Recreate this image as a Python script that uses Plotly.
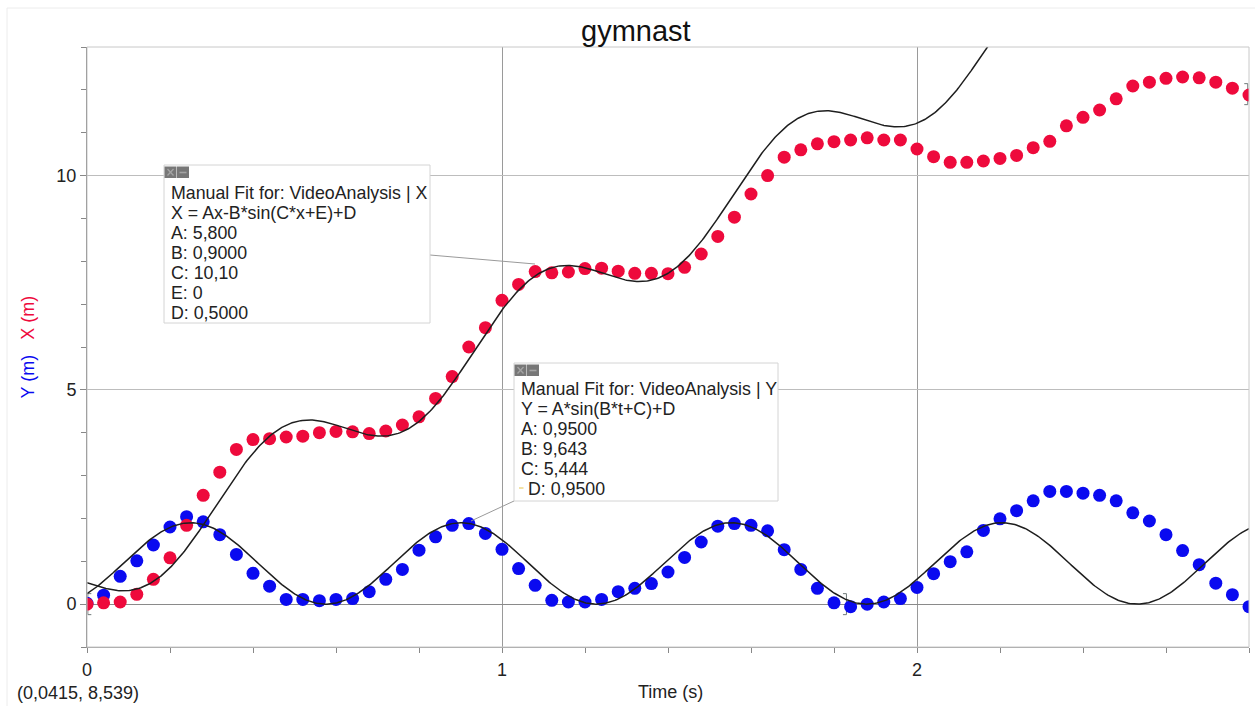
import numpy as np
import plotly.graph_objects as go

# ---- measured data (video analysis, 25 frames per second) ----
time_s = [0.00, 0.04, 0.08, 0.12, 0.16, 0.20, 0.24, 0.28, 0.32, 0.36,
          0.40, 0.44, 0.48, 0.52, 0.56, 0.60, 0.64, 0.68, 0.72, 0.76,
          0.80, 0.84, 0.88, 0.92, 0.96, 1.00, 1.04, 1.08, 1.12, 1.16,
          1.20, 1.24, 1.28, 1.32, 1.36, 1.40, 1.44, 1.48, 1.52, 1.56,
          1.60, 1.64, 1.68, 1.72, 1.76, 1.80, 1.84, 1.88, 1.92, 1.96,
          2.00, 2.04, 2.08, 2.12, 2.16, 2.20, 2.24, 2.28, 2.32, 2.36,
          2.40, 2.44, 2.48, 2.52, 2.56, 2.60, 2.64, 2.68, 2.72, 2.76,
          2.80]

x_pos_m = [0.00, 0.03, 0.05, 0.23, 0.58, 1.08, 1.84, 2.54, 3.08, 3.61,
           3.84, 3.86, 3.90, 3.92, 4.00, 4.03, 4.02, 3.98, 4.04, 4.18,
           4.37, 4.80, 5.31, 6.00, 6.45, 7.09, 7.46, 7.76, 7.73, 7.75,
           7.83, 7.84, 7.77, 7.72, 7.72, 7.71, 7.86, 8.17, 8.58, 9.03,
           9.57, 10.00, 10.43, 10.60, 10.74, 10.79, 10.83, 10.88, 10.83, 10.83,
           10.62, 10.44, 10.31, 10.31, 10.34, 10.40, 10.47, 10.65, 10.80, 11.16,
           11.36, 11.53, 11.79, 12.09, 12.18, 12.27, 12.30, 12.28, 12.18, 12.04,
           11.88]

y_pos_m = [0.02, 0.21, 0.65, 1.01, 1.38, 1.80, 2.04, 1.92, 1.62, 1.16,
           0.72, 0.42, 0.11, 0.11, 0.08, 0.11, 0.13, 0.29, 0.58, 0.81,
           1.26, 1.57, 1.84, 1.88, 1.65, 1.28, 0.83, 0.44, 0.09, 0.05,
           0.05, 0.11, 0.29, 0.37, 0.48, 0.75, 1.09, 1.45, 1.82, 1.88,
           1.84, 1.71, 1.27, 0.81, 0.37, 0.03, -0.06, 0.00, 0.05, 0.13,
           0.39, 0.71, 0.99, 1.22, 1.72, 1.99, 2.18, 2.41, 2.63, 2.63,
           2.59, 2.54, 2.41, 2.13, 1.94, 1.62, 1.25, 0.92, 0.49, 0.22,
           -0.06]

# ---- manual fit parameters ----
x_fit = {"A": 5.800, "B": 0.9000, "C": 10.10, "E": 0.0, "D": 0.5000}
y_fit = {"A": 0.9500, "B": 9.643, "C": 5.444, "D": 0.9500}

# fit-range brackets: (time, level in m, side) ; side +1 = '[', -1 = ']'
fit_brackets = [(0.002, 0.0, +1), (1.83, 0.0, -1), (2.797, 11.9, -1)]

x_box_lines = ["Manual Fit for: VideoAnalysis | X",
               "X = Ax-B*sin(C*x+E)+D",
               "A: 5,800", "B: 0,9000", "C: 10,10", "E: 0", "D: 0,5000"]
y_box_lines = ["Manual Fit for: VideoAnalysis | Y",
               "Y = A*sin(B*t+C)+D",
               "A: 0,9500", "B: 9,643", "C: 5,444", "D: 0,9500"]

x_ticks = [0, 1, 2]
y_ticks = [0, 5, 10]

RED = "#ee0a3c"
BLUE = "#0a0af0"
FONT = "Liberation Sans, Arial, sans-serif"

W, H = 1255, 706
ML, MR, MT, MB = 87, 6, 47, 59
PW, PH = W - ML - MR, H - MT - MB
X_RANGE = [0, 2.8]
Y_RANGE = [-1, 13]


def px(x):
    """Pixel column -> paper x."""
    return (x - ML) / PW


def py(y):
    """Pixel row -> paper y."""
    return (H - MB - y) / PH


def fx(t, p):
    return p["A"] * t - p["B"] * np.sin(p["C"] * t + p["E"]) + p["D"]


def fy(t, p):
    return p["A"] * np.sin(p["B"] * t + p["C"]) + p["D"]


# fit curves evaluated from the stated parameters
tt = np.linspace(X_RANGE[0], X_RANGE[1], 800)
x_curve = fx(tt, x_fit)
y_curve = fy(tt, y_fit)

fig = go.Figure()
fig.add_trace(go.Scatter(x=time_s, y=y_pos_m, mode="markers",
                         marker=dict(color=BLUE, size=13, line=dict(width=0)),
                         name="Y"))
fig.add_trace(go.Scatter(x=time_s, y=x_pos_m, mode="markers",
                         marker=dict(color=RED, size=13, line=dict(width=0)),
                         name="X"))
fig.add_trace(go.Scatter(x=tt, y=y_curve, mode="lines",
                         line=dict(color="#1e1e1e", width=1.5), name="Y fit"))
fig.add_trace(go.Scatter(x=tt, y=x_curve, mode="lines",
                         line=dict(color="#1e1e1e", width=1.5), name="X fit"))

shapes = []
# faint window frame
shapes.append(dict(type="rect", xref="paper", yref="paper",
                   x0=px(7), x1=px(1300), y0=py(760), y1=py(8),
                   line=dict(color="#ececec", width=1), layer="below"))
# plot frame (top / right)
shapes.append(dict(type="rect", xref="paper", yref="paper",
                   x0=0, x1=1, y0=0, y1=1,
                   line=dict(color="#c8c8c8", width=1), layer="above"))


def bracket(t, level, side):
    ppu_x = PW / (X_RANGE[1] - X_RANGE[0])
    ppu_y = PH / (Y_RANGE[1] - Y_RANGE[0])
    cx = ML + (t - X_RANGE[0]) * ppu_x
    cy = H - MB - (level - Y_RANGE[0]) * ppu_y
    xs = cx + side * 3.5
    path = (f"M {px(xs)} {py(cy - 10.5)} L {px(cx)} {py(cy - 10.5)} "
            f"L {px(cx)} {py(cy + 10.5)} L {px(xs)} {py(cy + 10.5)}")
    shapes.append(dict(type="path", xref="paper", yref="paper", path=path,
                       line=dict(color="#6f7a7a", width=1), layer="below"))


for t_b, lvl_b, side_b in fit_brackets:
    bracket(t_b, lvl_b, side_b)


def fit_box(x0, y0, x1, y1, leader):
    shapes.append(dict(type="line", xref="paper", yref="paper",
                       x0=px(leader[0][0]), y0=py(leader[0][1]),
                       x1=px(leader[1][0]), y1=py(leader[1][1]),
                       line=dict(color="#9a9a9a", width=1), layer="above"))
    shapes.append(dict(type="rect", xref="paper", yref="paper",
                       x0=px(x0), x1=px(x1), y0=py(y1), y1=py(y0),
                       fillcolor="white", line=dict(color="#d4d4d4", width=1),
                       layer="above"))
    # close / minimise buttons
    for k in range(2):
        bx = x0 + 0.5 + k * 12.5
        shapes.append(dict(type="rect", xref="paper", yref="paper",
                           x0=px(bx), x1=px(bx + 12), y0=py(y0 + 13), y1=py(y0 + 1.5),
                           fillcolor="#777777", line=dict(width=0), layer="above"))
    bx = x0 + 0.5
    shapes.append(dict(type="line", xref="paper", yref="paper",
                       x0=px(bx + 3), x1=px(bx + 9), y0=py(y0 + 4), y1=py(y0 + 10.5),
                       line=dict(color="#a4a4a4", width=1.3), layer="above"))
    shapes.append(dict(type="line", xref="paper", yref="paper",
                       x0=px(bx + 3), x1=px(bx + 9), y0=py(y0 + 10.5), y1=py(y0 + 4),
                       line=dict(color="#a4a4a4", width=1.3), layer="above"))
    bx = x0 + 13
    shapes.append(dict(type="line", xref="paper", yref="paper",
                       x0=px(bx + 2.5), x1=px(bx + 9.5), y0=py(y0 + 7.5), y1=py(y0 + 7.5),
                       line=dict(color="#a4a4a4", width=1.6), layer="above"))


fit_box(164, 165, 430, 323, ((430, 255), (535, 264)))
fit_box(514, 363, 778, 501, ((514, 501), (471, 521)))
# small highlight marker before the last parameter of the Y fit
shapes.append(dict(type="rect", xref="paper", yref="paper",
                   x0=px(519), x1=px(523.5), y0=py(489), y1=py(487),
                   fillcolor="#f2e2a6", line=dict(width=0), layer="above"))

annotations = []
for k, line in enumerate(x_box_lines):
    annotations.append(dict(text=line, xref="paper", yref="paper",
                            x=px(169), y=py(192.5 + 20 * k),
                            xanchor="left", yanchor="middle", showarrow=False,
                            font=dict(family=FONT, size=17.8, color="#222222")))
for k, line in enumerate(y_box_lines):
    xl = 526 if k == len(y_box_lines) - 1 else 518.5
    annotations.append(dict(text=line, xref="paper", yref="paper",
                            x=px(xl), y=py(389 + 20 * k),
                            xanchor="left", yanchor="middle", showarrow=False,
                            font=dict(family=FONT, size=17.8, color="#222222")))

annotations.append(dict(text="gymnast", xref="paper", yref="paper",
                        x=px(636), y=py(31), xanchor="center", yanchor="middle",
                        showarrow=False,
                        font=dict(family=FONT, size=29, color="#111111")))
annotations.append(dict(text="Time (s)", xref="paper", yref="paper",
                        x=px(670), y=py(692), xanchor="center", yanchor="middle",
                        showarrow=False,
                        font=dict(family=FONT, size=18, color="#222222")))
annotations.append(dict(text=f"<span style='color:{BLUE}'>Y (m)</span>"
                             f"&nbsp;&nbsp;&nbsp;<span style='color:{RED}'>X (m)</span>",
                        xref="paper", yref="paper",
                        x=px(27.5), y=py(347), xanchor="center", yanchor="middle",
                        textangle=-90, showarrow=False,
                        font=dict(family=FONT, size=18, color="#222222")))
annotations.append(dict(text="(0,0415, 8,539)", xref="paper", yref="paper",
                        x=px(15), y=py(693), xanchor="left", yanchor="middle",
                        showarrow=False,
                        font=dict(family=FONT, size=18, color="#222222")))

fig.update_layout(
    width=W, height=H,
    margin=dict(l=ML, r=MR, t=MT, b=MB, pad=0),
    paper_bgcolor="white", plot_bgcolor="white",
    showlegend=False,
    shapes=shapes,
    annotations=annotations,
    xaxis=dict(range=X_RANGE, tickmode="array", tickvals=x_ticks,
               ticks="outside", ticklen=5, tickcolor="#888888",
               showgrid=True, gridcolor="#9a9a9a", gridwidth=1,
               zeroline=False, showline=True, linecolor="#9a9a9a",
               tickfont=dict(family=FONT, size=18, color="#222222"),
               ticklabelstandoff=1,
               minor=dict(dtick=0.2, ticks="outside", ticklen=5,
                          tickcolor="#888888", showgrid=False)),
    yaxis=dict(range=Y_RANGE, tickmode="array", tickvals=y_ticks,
               ticks="outside", ticklen=6, tickcolor="#888888",
               showgrid=True, gridcolor="#bdbdbd", gridwidth=1,
               zeroline=True, zerolinecolor="#8a8a8a", zerolinewidth=1,
               showline=True, linecolor="#7a7a7a",
               tickfont=dict(family=FONT, size=18, color="#222222"),
               ticklabelstandoff=0,
               minor=dict(dtick=1, ticks="outside", ticklen=5,
                          tickcolor="#888888", showgrid=False)),
)

fig.write_html("out.html")
